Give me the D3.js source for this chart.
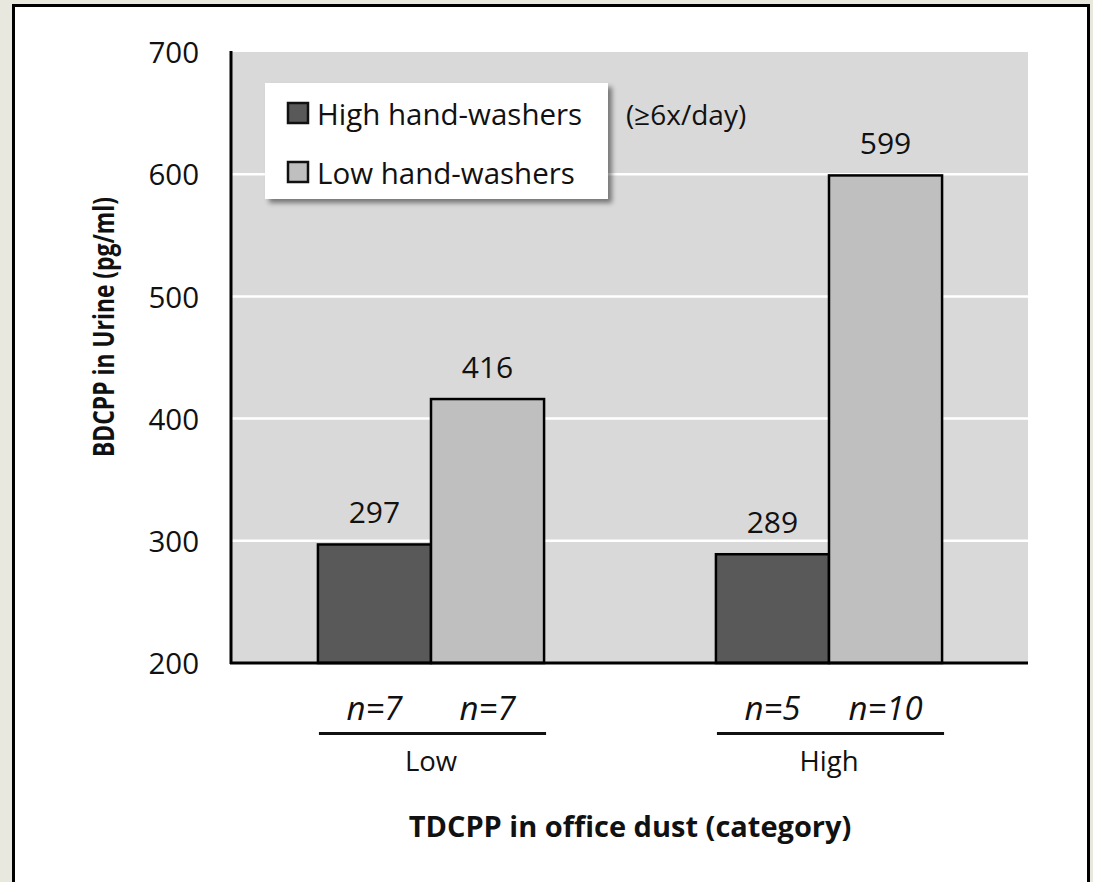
<!DOCTYPE html>
<html>
<head>
<script src="https://d3js.org/d3.v7.min.js"></script>
<style>
  body { margin: 0; background: #e9e8de; }
  text { font-family: "Open Sans", sans-serif; fill: #111; }
  .tick-lbl { font-size: 29.5px; }
  .bar-lbl { font-size: 30px; }
  .n-lbl { font-size: 33px; font-style: italic; }
  .cat-lbl { font-size: 27.5px; }
  .axis-title { font-weight: bold; }
  .legend-txt { font-size: 29.5px; }
</style>
</head>
<body>
<div id="chart"></div>
<script>
// data
var categories = ["Low", "High"];
var seriesNames = ["High hand-washers", "Low hand-washers"];
var highWashers = [297, 289];
var lowWashers = [416, 599];
var nHigh = ["n=7", "n=5"];
var nLow = ["n=7", "n=10"];
var yTicks = [200, 300, 400, 500, 600, 700];
var colors = ["#595959", "#bfbfbf"];

var W = 1093, H = 882;
var margin = { top: 52, right: 65, bottom: 219, left: 232 };
var width = W - margin.left - margin.right;
var height = H - margin.top - margin.bottom;

var svg = d3.select("#chart").append("svg")
  .attr("width", W).attr("height", H);

// outer white frame
svg.append("rect")
  .attr("x", 13.5).attr("y", 5.5)
  .attr("width", 1075).attr("height", 900)
  .attr("fill", "#fff").attr("stroke", "#000").attr("stroke-width", 3);

var defs = svg.append("defs");
var f = defs.append("filter").attr("id", "shadow")
  .attr("x", "-10%").attr("y", "-10%").attr("width", "130%").attr("height", "140%");
f.append("feDropShadow").attr("dx", 4).attr("dy", 4).attr("stdDeviation", 2.5)
  .attr("flood-color", "#000").attr("flood-opacity", 0.45);

var g = svg.append("g").attr("transform", "translate(" + margin.left + "," + margin.top + ")");

var y = d3.scaleLinear().domain([200, 700]).range([height, 0]);
var x0 = d3.scaleBand().domain(categories).range([0, width]).padding(0);
var x1 = d3.scaleBand().domain(seriesNames).range([0, x0.bandwidth()])
  .paddingInner(0).paddingOuter(0.76);

// plot background
g.append("rect").attr("x", 0).attr("y", 0)
  .attr("width", width).attr("height", height).attr("fill", "#d9d9d9");

// gridlines
g.append("g").selectAll("line")
  .data(yTicks.filter(function(d) { return d > 200 && d < 700; }))
  .join("line")
  .attr("x1", 0).attr("x2", width)
  .attr("y1", function(d) { return y(d); })
  .attr("y2", function(d) { return y(d); })
  .attr("stroke", "#fff").attr("stroke-width", 2.5);

// y axis labels
var yAxis = g.append("g")
  .call(d3.axisLeft(y).tickValues(yTicks).tickSize(0).tickPadding(33));
yAxis.select(".domain").remove();
yAxis.selectAll("text").attr("class", "tick-lbl").attr("font-family", null)
  .attr("font-size", null).attr("fill", "#111").attr("dy", "0.36em");

// bars
var rows = categories.map(function(c, i) {
  return { cat: c, vals: [
    { s: seriesNames[0], v: highWashers[i], n: nHigh[i], c: colors[0] },
    { s: seriesNames[1], v: lowWashers[i], n: nLow[i], c: colors[1] }
  ] };
});

var grp = g.selectAll(".grp").data(rows).join("g")
  .attr("class", "grp")
  .attr("transform", function(d) { return "translate(" + x0(d.cat) + ",0)"; });

grp.selectAll("rect").data(function(d) { return d.vals; }).join("rect")
  .attr("x", function(d) { return x1(d.s); })
  .attr("y", function(d) { return y(d.v); })
  .attr("width", x1.bandwidth())
  .attr("height", function(d) { return height - y(d.v); })
  .attr("fill", function(d) { return d.c; })
  .attr("stroke", "#000").attr("stroke-width", 2.5);

grp.selectAll(".bar-lbl").data(function(d) { return d.vals; }).join("text")
  .attr("class", "bar-lbl")
  .attr("x", function(d) { return x1(d.s) + x1.bandwidth() / 2; })
  .attr("y", function(d) { return y(d.v) - 21; })
  .attr("text-anchor", "middle")
  .text(function(d) { return d.v; });

// n labels
grp.selectAll(".n-lbl").data(function(d) { return d.vals; }).join("text")
  .attr("class", "n-lbl")
  .attr("x", function(d) { return x1(d.s) + x1.bandwidth() / 2; })
  .attr("y", height + 57)
  .attr("text-anchor", "middle")
  .text(function(d) { return d.n; });

// bracket line under n labels
grp.append("line")
  .attr("x1", x1(seriesNames[0]) + 1)
  .attr("x2", x1(seriesNames[1]) + x1.bandwidth() + 2)
  .attr("y1", height + 70.5).attr("y2", height + 70.5)
  .attr("stroke", "#111").attr("stroke-width", 3);

grp.append("text").attr("class", "cat-lbl")
  .attr("x", x0.bandwidth() / 2)
  .attr("y", height + 108)
  .attr("text-anchor", "middle")
  .text(function(d) { return d.cat; });

// axis lines
g.append("line").attr("x1", -1).attr("x2", -1).attr("y1", -1).attr("y2", height + 1)
  .attr("stroke", "#000").attr("stroke-width", 3);
g.append("line").attr("x1", -2).attr("x2", width).attr("y1", height).attr("y2", height)
  .attr("stroke", "#000").attr("stroke-width", 3);

// axis titles
g.append("text").attr("class", "axis-title")
  .attr("text-anchor", "middle").style("font-size", "29px")
  .attr("transform", "translate(" + (width / 2) + "," + (height + 174) + ")")
  .text("TDCPP in office dust (category)");

g.append("text").attr("class", "axis-title")
  .attr("text-anchor", "middle").style("font-size", "29px")
  .attr("textLength", 260).attr("lengthAdjust", "spacingAndGlyphs")
  .attr("transform", "translate(" + (-118) + "," + 275 + ") rotate(-90)")
  .text("BDCPP in Urine (pg/ml)");

// legend
var lg = svg.append("g").attr("transform", "translate(265,83)");
lg.append("rect").attr("width", 343).attr("height", 116)
  .attr("fill", "#fff").attr("filter", "url(#shadow)");
seriesNames.forEach(function(s, i) {
  lg.append("rect").attr("x", 23).attr("y", 20 + i * 59)
    .attr("width", 20).attr("height", 20)
    .attr("fill", colors[i]).attr("stroke", "#111").attr("stroke-width", 2.5);
  lg.append("text").attr("class", "legend-txt")
    .attr("x", 52).attr("y", 42 + i * 59)
    .text(s);
});
svg.append("text").attr("class", "legend-txt")
  .attr("x", 626).attr("y", 125).style("font-size", "28px")
  .text("(≥6x/day)");
</script>
</body>
</html>
